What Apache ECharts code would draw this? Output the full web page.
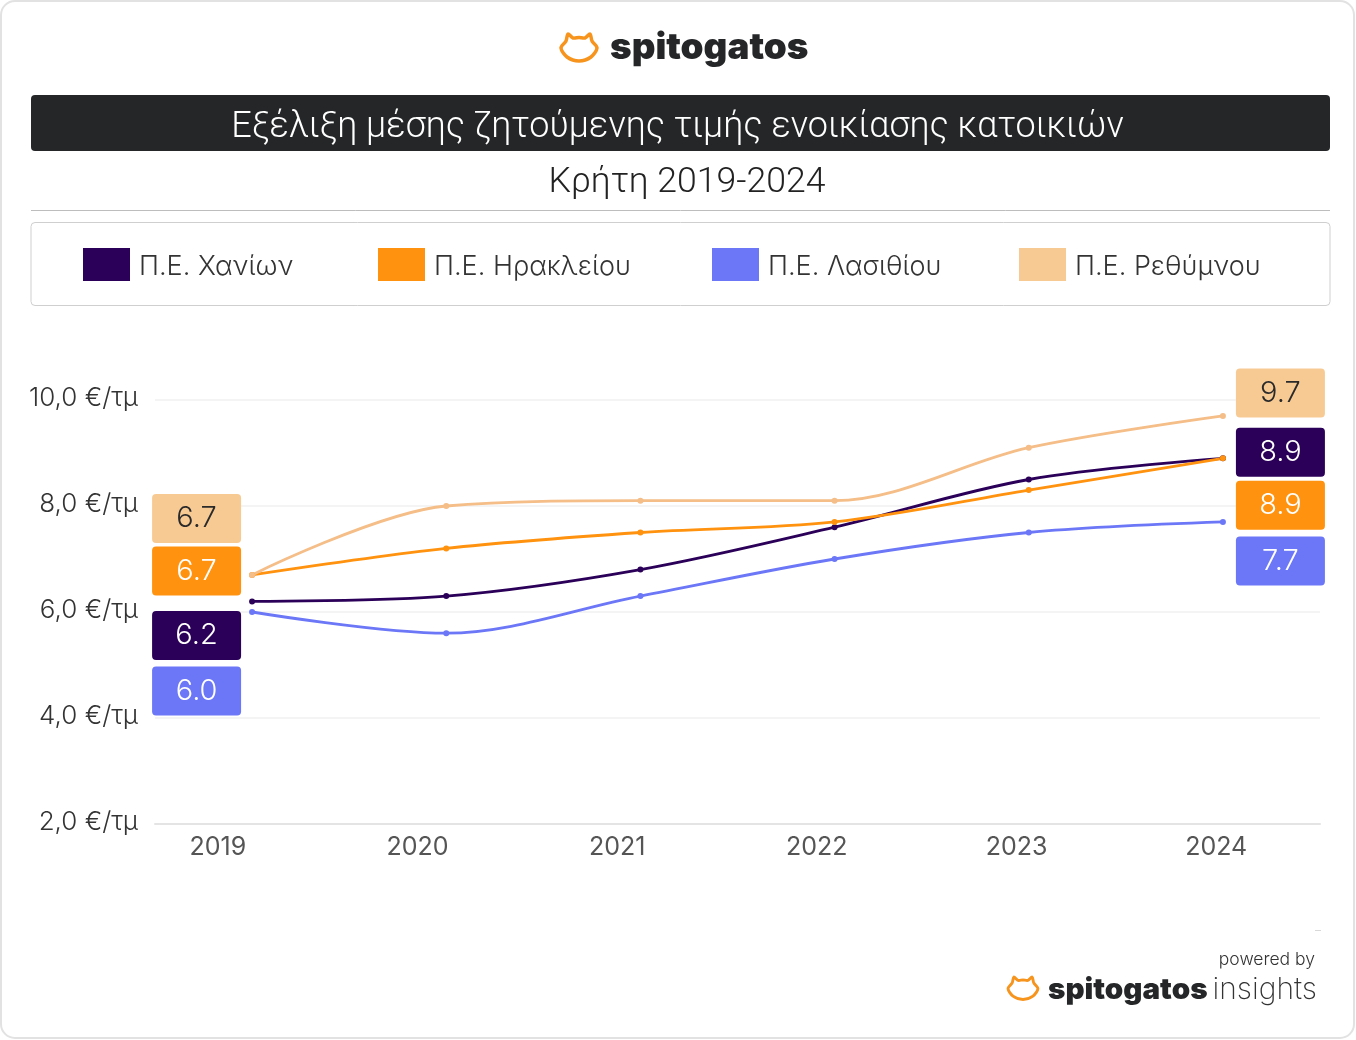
<!DOCTYPE html>
<html>
<head>
<meta charset="utf-8">
<style>
  html, body { margin: 0; padding: 0; background: #fff; }
  #chart { width: 1356px; height: 1040px; }
</style>
<script src="https://cdn.jsdelivr.net/npm/echarts@6/dist/echarts.min.js"></script>
</head>
<body>
<div id="chart"></div>
<script>
// values
const years = ['2019', '2020', '2021', '2022', '2023', '2024'];
const chania = [6.2, 6.3, 6.8, 7.6, 8.5, 8.9];
const heraklio = [6.7, 7.2, 7.5, 7.7, 8.3, 8.9];
const lasithi = [6.0, 5.6, 6.3, 7.0, 7.5, 7.7];
const rethymno = [6.7, 8.0, 8.1, 8.1, 9.1, 9.7];

const FONT = 'Inter';
const ORANGE = '#ff920e';
const PEACH = '#f8ca93';
// cat outline of the logo, page coordinates of the top one
const catPoints = [[568, 34], [573, 38], [579, 37.5], [585, 38], [590, 34], [592, 41], [597, 48], [591, 57], [579, 61], [567, 57], [561, 48], [566, 41]];

// boxes at both ends of each line: offset from the first and last point
function makeSeries(name, values, color, boxColor, textColor, firstOffset, lastOffset) {
  const box = (value, offset) => ({
    value,
    label: {
      show: true,
      position: 'inside',
      offset,
      formatter: value.toFixed(1),
      width: 89,
      height: 49,
      lineHeight: 51,
      align: 'center',
      verticalAlign: 'middle',
      backgroundColor: boxColor,
      borderRadius: 4,
      color: textColor,
      fontFamily: FONT,
      fontWeight: 300,
      fontSize: 29
    }
  });
  const last = values.length - 1;
  return {
    name,
    type: 'line',
    smooth: 0.33,
    symbol: 'circle',
    symbolSize: 6,
    lineStyle: { width: 2.8, color },
    itemStyle: { color },
    data: values.map((v, i) => {
      if (i === 0) return box(v, firstOffset);
      if (i === last) return box(v, lastOffset);
      return v;
    })
  };
}

const series = [
  makeSeries('Π.Ε. Χανίων', chania, '#2b0058', '#2b0058', '#fff', [-55.5, 34], [57.5, -6]),
  makeSeries('Π.Ε. Ηρακλείου', heraklio, ORANGE, ORANGE, '#fff', [-55.5, -4], [57.5, 47]),
  makeSeries('Π.Ε. Λασιθίου', lasithi, '#6b77f7', '#6b77f7', '#fff', [-55.5, 79], [57.5, 39]),
  makeSeries('Π.Ε. Ρεθύμνου', rethymno, '#f5bd87', PEACH, '#2a2a2a', [-55.5, -56.4], [57.5, -23])
];

const legendLefts = [83, 378, 712, 1019];
const legendColors = ['#2b0058', ORANGE, '#6b77f7', PEACH];

const chart = echarts.init(document.getElementById('chart'));
chart.setOption({
  animation: false,
  backgroundColor: '#fff',
  textStyle: { fontFamily: FONT },
  title: [
    {
      text: 'Εξέλιξη μέσης ζητούμενης τιμής ενοικίασης κατοικιών',
      left: 677.5, top: 102, textAlign: 'center', padding: 0,
      textStyle: { color: '#fff', fontSize: 36, fontWeight: 300, fontFamily: 'Roboto', lineHeight: 52 }
    },
    {
      text: 'Κρήτη 2019-2024',
      left: 687, top: 159, textAlign: 'center', padding: 0,
      textStyle: { color: '#222', fontSize: 35.6, fontWeight: 300, fontFamily: 'Roboto', lineHeight: 48 }
    }
  ],
  legend: series.map((s, i) => ({
    data: [{ name: s.name, itemStyle: { color: legendColors[i] } }],
    left: legendLefts[i],
    top: 248,
    padding: 0,
    icon: 'rect',
    itemWidth: 47,
    itemHeight: 33,
    itemGap: 0,
    selectedMode: false,
    formatter: '{t|{name}}',
    textStyle: {
      rich: {
        t: { color: '#333', fontSize: 27, fontWeight: 300, fontFamily: FONT, padding: [4, 0, 0, 4] }
      }
    }
  })),
  grid: [
    { left: 155, width: 1165, top: 400, height: 424 },
    { left: 118, width: 1198, top: 400, height: 424 }
  ],
  xAxis: [
    {
      type: 'category', gridIndex: 0, data: years, boundaryGap: true,
      axisLine: { show: true, lineStyle: { color: '#e4e4e4', width: 2 } },
      axisTick: { show: false }, axisLabel: { show: false }
    },
    {
      type: 'category', gridIndex: 1, data: years, boundaryGap: true,
      axisLine: { show: false }, axisTick: { show: false },
      axisLabel: { color: '#555', fontSize: 25, fontWeight: 400, fontFamily: FONT, margin: 11 }
    }
  ],
  yAxis: [
    {
      type: 'value', gridIndex: 0, min: 2, max: 10, interval: 2,
      axisLine: { show: false }, axisTick: { show: false },
      splitLine: { lineStyle: { color: '#f1f1f1', width: 1.5 } },
      axisLabel: {
        color: '#333', fontSize: 26, fontWeight: 300, fontFamily: FONT, margin: 17,
        verticalAlign: 'bottom', lineHeight: 4,
        formatter: v => v.toFixed(1).replace('.', ',') + ' €/τμ'
      }
    },
    { type: 'value', gridIndex: 1, min: 2, max: 10, show: false }
  ],
  series,
  graphic: [
    { type: 'rect', z: 0, shape: { x: 1, y: 1, width: 1353, height: 1037, r: 14 }, style: { fill: '#fff', stroke: '#e2e2e2', lineWidth: 2 } },
    { type: 'rect', z: 1, shape: { x: 31, y: 95, width: 1299, height: 56, r: 4 }, style: { fill: '#242628' } },
    { type: 'line', z: 1, shape: { x1: 31, y1: 210.5, x2: 1330, y2: 210.5 }, style: { stroke: '#bdbdbd', lineWidth: 1 } },
    { type: 'rect', z: 1, shape: { x: 31, y: 222.5, width: 1299, height: 83, r: 4 }, style: { fill: '#fff', stroke: '#cfcfcf', lineWidth: 1 } },
    // top logo
    { type: 'polygon', z: 1, shape: { points: catPoints, smooth: 0.3 }, style: { fill: 'none', stroke: '#f7941d', lineWidth: 3.5, lineJoin: 'round' } },
    { type: 'text', z: 1, x: 610, y: 48, style: { text: 'spitogatos', fill: '#242628', font: '900 36.8px Inter', textVerticalAlign: 'middle' } },
    // bottom logo
    { type: 'polygon', z: 1, x: 542.4, y: 948.8, scaleX: 0.83, scaleY: 0.83, shape: { points: catPoints, smooth: 0.3 }, style: { fill: 'none', stroke: '#f7941d', lineWidth: 3.5, lineJoin: 'round' } },
    { type: 'text', z: 1, x: 1048, y: 990, style: { text: 'spitogatos', fill: '#242628', font: '900 29.6px Inter', textVerticalAlign: 'middle' } },
    { type: 'text', z: 1, x: 1317, y: 990, style: { text: 'insights', fill: '#333', font: '200 30px Inter', textAlign: 'right', textVerticalAlign: 'middle' } },
    { type: 'text', z: 1, x: 1315, y: 960, style: { text: 'powered by', fill: '#333', font: '300 17.5px Inter', textAlign: 'right', textVerticalAlign: 'middle' } },
    { type: 'line', z: 1, shape: { x1: 1315, y1: 930.5, x2: 1321, y2: 930.5 }, style: { stroke: '#d8d8d8', lineWidth: 1 } }
  ]
});
</script>
</body>
</html>
